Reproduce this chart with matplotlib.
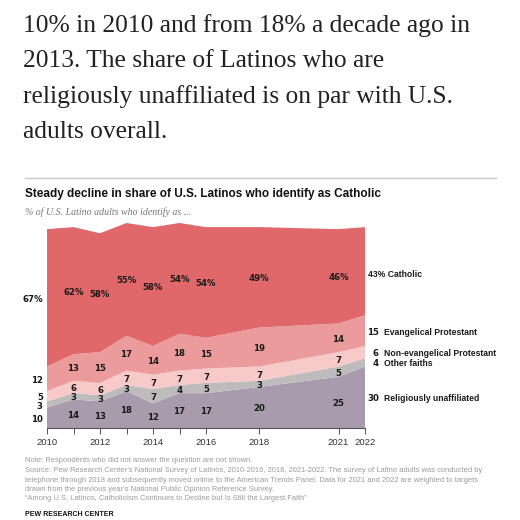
import matplotlib
matplotlib.use("Agg")
import matplotlib.pyplot as plt

# ------------------------------------------------------------
# Data
# ------------------------------------------------------------

years = [2010, 2011, 2012, 2013, 2014, 2015, 2016, 2018, 2021, 2022]

unaffiliated = [10, 14, 13, 18, 12, 17, 17, 20, 25, 30]
other_faiths = [3, 3, 3, 3, 7, 4, 5, 3, 5, 4]
non_evangelical = [5, 6, 6, 7, 7, 7, 7, 7, 7, 6]
evangelical = [12, 13, 15, 17, 14, 18, 15, 19, 14, 15]
catholic = [67, 62, 58, 55, 58, 54, 54, 49, 46, 43]

series_names = [
    "Religiously unaffiliated",
    "Other faiths",
    "Non-evangelical Protestant",
    "Evangelical Protestant",
    "Catholic",
]

tick_years = [2010, 2011, 2012, 2013, 2014, 2015, 2016, 2018, 2021, 2022]
labeled_years = [2010, 2012, 2014, 2016, 2018, 2021, 2022]

body_lines = [
    "10% in 2010 and from 18% a decade ago in",
    "2013. The share of Latinos who are",
    "religiously unaffiliated is on par with U.S.",
    "adults overall.",
]

note_lines = [
    "Note: Respondents who did not answer the question are not shown.",
    "Source: Pew Research Center\u2019s National Survey of Latinos, 2010-2016, 2018, 2021-2022. The survey of Latino adults was conducted by",
    "telephone through 2018 and subsequently moved online to the American Trends Panel. Data for 2021 and 2022 are weighted to targets",
    "drawn from the previous year\u2019s National Public Opinion Reference Survey.",
    "\u201cAmong U.S. Latinos, Catholicism Continues to Decline but Is Still the Largest Faith\u201d",
]

# ------------------------------------------------------------
# Style
# ------------------------------------------------------------

colors = ["#a99bae", "#bdbbbc", "#f7c9c9", "#ec9b9c", "#e0686a"]

W = H = 520


def fx(px):
    return px / W


def fy(py):
    return 1 - py / H


fig = plt.figure(figsize=(5.2, 5.2), dpi=100)
fig.patch.set_facecolor("white")

# ------------------------------------------------------------
# Article text above the chart
# ------------------------------------------------------------

for i, line in enumerate(body_lines):
    fig.text(
        fx(23), fy(32 + i * 35.3), line,
        family="Liberation Serif", fontsize=18.4, color="#222222",
        va="baseline", ha="left"
    )

fig.add_artist(plt.Line2D([fx(25), fx(496)], [fy(178), fy(178)],
                          color="#c8c8c8", linewidth=1))

# ------------------------------------------------------------
# Chart title
# ------------------------------------------------------------

fig.text(fx(25), fy(194), "Steady decline in share of U.S. Latinos who identify as Catholic",
         family="Liberation Sans", weight="bold", fontsize=8.5, color="#111111",
         va="center", ha="left")

fig.text(fx(25), fy(212), "% of U.S. Latino adults who identify as ...",
         family="Liberation Serif", style="italic", fontsize=7.1, color="#777777",
         va="center", ha="left")

# ------------------------------------------------------------
# Stacked area
# ------------------------------------------------------------

ax = fig.add_axes([fx(47), fy(428), fx(365) - fx(47), 205 / H])

stack = [unaffiliated, other_faiths, non_evangelical, evangelical, catholic]

ax.stackplot(years, *stack, colors=colors, linewidth=0)

ax.set_xlim(2010, 2022)
ax.set_ylim(0, 100)

for side in ["top", "right", "left"]:
    ax.spines[side].set_visible(False)
ax.spines["bottom"].set_color("#555555")
ax.spines["bottom"].set_linewidth(0.8)

ax.set_yticks([])
ax.set_xticks(tick_years)
ax.set_xticklabels([str(y) if y in labeled_years else "" for y in tick_years])
ax.tick_params(axis="x", length=4, width=0.7, color="#555555",
               labelsize=6.8, labelcolor="#333333", pad=3)
for lbl in ax.get_xticklabels():
    lbl.set_family("Liberation Sans")

# ------------------------------------------------------------
# Value labels
# ------------------------------------------------------------

num_font = dict(family="DejaVu Sans", weight="bold", fontsize=6.2, color="#1a1a1a")
side_font = dict(family="Liberation Sans", weight="bold", fontsize=6.2, color="#1a1a1a")

for j, yr in enumerate(years):
    bottom = 0
    for k, values in enumerate(stack):
        v = values[j]
        center = bottom + v / 2
        bottom += v
        text = f"{v}%" if k == 4 else f"{v}"
        if yr == 2010:
            ax.annotate(text, (yr, center), xytext=(-3, -1.2), textcoords="offset points",
                        ha="right", va="center", annotation_clip=False, **num_font)
        elif yr == 2022:
            if k == 4:
                label = f"{v}% {series_names[k]}"
                ax.annotate(label, (yr, center), xytext=(2, -2.5), textcoords="offset points",
                            ha="left", va="center", annotation_clip=False, **side_font)
            else:
                ax.annotate(text, (yr, center), xytext=(10, -1), textcoords="offset points",
                            ha="right", va="center", annotation_clip=False, **num_font)
                ax.annotate(series_names[k], (yr, center), xytext=(14, -1),
                            textcoords="offset points", ha="left", va="center",
                            annotation_clip=False, **side_font)
        else:
            ax.annotate(text, (yr, center), xytext=(0, -1), textcoords="offset points",
                        ha="center", va="center", **num_font)

# ------------------------------------------------------------
# Notes
# ------------------------------------------------------------

for i, line in enumerate(note_lines):
    fig.text(fx(25), fy(461 + i * 9.5), line,
             family="Liberation Sans", fontsize=5.45, color="#9a9a9a",
             va="center", ha="left")

fig.text(fx(25), fy(515), "PEW RESEARCH CENTER",
         family="Liberation Sans", weight="bold", fontsize=5.0, color="#111111",
         va="center", ha="left")

fig.savefig("out.png", dpi=100, facecolor="white")
